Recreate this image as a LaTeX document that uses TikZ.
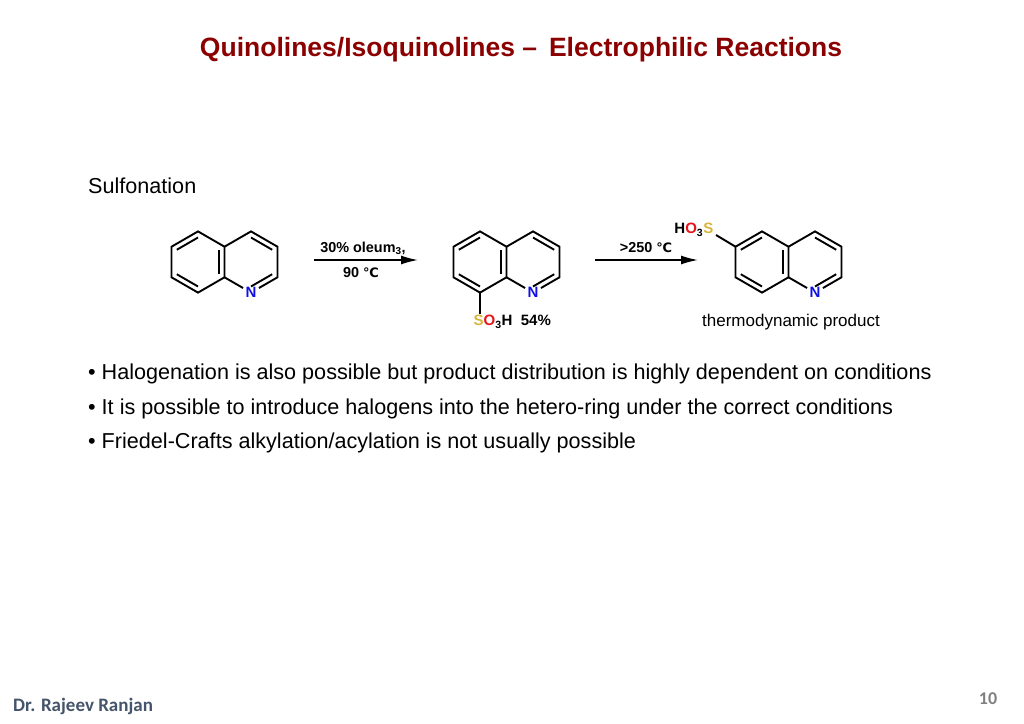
\documentclass[tikz,border=0pt]{standalone}
\usepackage{fontspec}
\setmainfont{Liberation Sans}
\newfontfamily\djv{DejaVu Sans}
\newfontfamily\carl{Carlito}
\usetikzlibrary{calc,arrows.meta}
\definecolor{titlered}{HTML}{8B0000}
\definecolor{sulf}{HTML}{D9B43A}
\definecolor{oxr}{HTML}{E8141B}
\definecolor{nblue}{HTML}{1010E0}
\definecolor{authc}{HTML}{44546A}
\newcommand\degc{{\djv\fontsize{13}{13}\selectfont ℃}}
\newcommand\quinring{%
  \coordinate (c1) at (0,0); \coordinate (c2) at (53,0);
  \coordinate (T) at (0,-30.6); \coordinate (UR) at (26.5,-15.3);
  \coordinate (LR) at (26.5,15.3); \coordinate (B) at (0,30.6);
  \coordinate (LL) at (-26.5,15.3); \coordinate (UL) at (-26.5,-15.3);
  \coordinate (T2) at (53,-30.6); \coordinate (UR2) at (79.5,-15.3);
  \coordinate (LR2) at (79.5,15.3); \coordinate (B2) at (53,30.6);
  \draw[bond] (T)--(UR)--(LR)--(B)--(LL)--(UL)--cycle;
  \draw[bond] (UR)--(T2)--(UR2)--(LR2)--($(LR2)!0.7!(B2)$);
  \draw[bond] ($(B2)!0.3!(LR)$)--(LR);
  \draw[bond] ($(c1)!0.8!(UR)$)--($(c1)!0.8!(LR)$);
  \draw[bond] ($(c1)!0.8!(B)$)--($(c1)!0.8!(LL)$);
  \draw[bond] ($(c1)!0.8!(UL)$)--($(c1)!0.8!(T)$);
  \draw[bond] ($(c2)!0.8!(T2)$)--($(c2)!0.8!(UR2)$);
  \draw[bond] ($(c2)!0.8!(LR2)$)--($(c2)!0.8!(B2)$);
  \node[atom,text=nblue] (N) at (B2) {N};}
\tikzset{
  bond/.style={line width=1.9pt},
  atom/.style={font=\bfseries\fontsize{15}{15}\selectfont,inner sep=0.5pt},
  cond/.style={font=\bfseries\fontsize{14.4}{14}\selectfont,inner sep=0pt},
  body/.style={font=\fontsize{21.6}{22}\selectfont,anchor=base west,inner sep=0pt},
  rxn/.style={line width=1.5pt,-{Latex[length=17pt,width=9pt]}}
}
\begin{document}
\begin{tikzpicture}[x=1pt,y=-1pt]
\useasboundingbox (0,0) rectangle (1024,723);
\node[font=\bfseries\fontsize{26.5}{26}\selectfont,text=titlered] (title) at (521,50) {Quinolines/Isoquinolines --\, Electrophilic Reactions};
\node[body] (sulf) at (88,193) {Sulfonation};
% molecule 1
\begin{scope}[shift={(198,262)}]
\quinring
\end{scope}
% arrow 1
\coordinate (a1s) at (314,260); \coordinate (a1e) at (418,260);
\draw[rxn] (a1s)--(a1e);
\node[cond] (c1a) at (363,248) {30\% oleum\textsubscript{3},};
\node[cond] (c1b) at (361,273) {90 \degc};
% molecule 2
\begin{scope}[shift={(480,262)}]
\quinring
\node[atom,anchor=west] (s2) at (-7,60) {\textcolor{sulf}{S}\textcolor{oxr}{O}\textsubscript{3}H\ \ 54\%};
\draw[bond] (B)--(0,52);
\end{scope}
% arrow 2
\coordinate (a2s) at (595,260); \coordinate (a2e) at (698,260);
\draw[rxn] (a2s)--(a2e);
\node[cond] (c2a) at (646,248) {>250 \degc};
% molecule 3
\begin{scope}[shift={(762,262)}]
\quinring
\draw[bond] (UL)--(-46,-27);
\node[atom,anchor=east] (s3) at (-48,-32) {H\textcolor{oxr}{O}\textsubscript{3}\textcolor{sulf}{S}};
\end{scope}
\node[font=\fontsize{17}{17}\selectfont] (thermo) at (791,322) {thermodynamic product};
% bullets
\node[body] (b1) at (88,379) {• Halogenation is also possible but product distribution is highly dependent on conditions};
\node[body] (b2) at (88,414) {• It is possible to introduce halogens into the hetero-ring under the correct conditions};
\node[body] (b3) at (88,448) {• Friedel-Crafts alkylation/acylation is not usually possible};
\node[font=\carl\bfseries\fontsize{19}{19}\selectfont,text=authc,anchor=west,inner sep=0pt] (auth) at (13,706) {Dr. Rajeev Ranjan};
\node[font=\carl\bfseries\fontsize{18}{18}\selectfont,text=gray] (pg) at (988,699) {10};
\end{tikzpicture}
\end{document}
